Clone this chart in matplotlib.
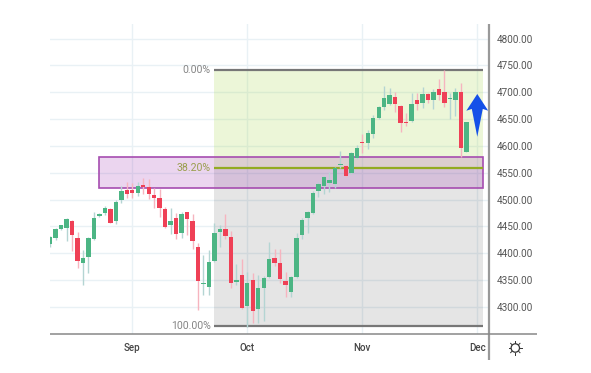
import numpy as np
import matplotlib
matplotlib.use('Agg')
import matplotlib.pyplot as plt
from matplotlib.patches import Rectangle, Polygon, Circle

# candle values, one row per trading day
opens = [4416.9, 4428.7, 4444.3, 4446.2, 4460.5, 4427.5, 4380.8, 4393.3, 4426.2, 4469.8,
         4474.1, 4482.8, 4460.5, 4498.4, 4518.3, 4517.7, 4512.7, 4526.4, 4523.9, 4508.4,
         4502.1, 4481.6, 4451.7, 4466.0, 4436.8, 4476.0, 4459.2, 4411.3, 4341.7, 4336.8,
         4385.9, 4439.4, 4445.6, 4429.4, 4346.7, 4359.8, 4301.3, 4349.2, 4295.1, 4334.3,
         4354.8, 4390.2, 4380.9, 4347.3, 4327.4, 4354.8, 4433.2, 4465.5, 4475.5, 4515.8,
         4525.2, 4530.1, 4528.3, 4563.7, 4563.1, 4548.8, 4576.8, 4607.9, 4606.0, 4621.6,
         4651.4, 4672.0, 4678.8, 4690.6, 4674.5, 4645.2, 4647.1, 4685.0, 4680.7, 4696.9,
         4685.7, 4705.6, 4700.6, 4686.9, 4685.7, 4700.6, 4588.6]
closes = [4430.6, 4444.3, 4452.4, 4464.2, 4433.7, 4384.6, 4391.4, 4427.5, 4464.8, 4472.9,
          4483.5, 4456.7, 4495.3, 4515.2, 4510.2, 4511.5, 4525.8, 4523.9, 4510.2, 4503.4,
          4483.5, 4448.0, 4459.8, 4435.0, 4472.3, 4464.2, 4421.9, 4348.5, 4344.2, 4384.0,
          4438.1, 4445.6, 4432.5, 4344.2, 4349.8, 4297.0, 4343.6, 4291.3, 4334.3, 4354.2,
          4389.6, 4382.2, 4351.1, 4339.9, 4354.8, 4428.8, 4462.4, 4477.3, 4511.5, 4528.3,
          4542.0, 4536.4, 4558.1, 4565.6, 4544.5, 4587.4, 4596.7, 4606.0, 4623.5, 4652.1,
          4673.2, 4690.0, 4694.4, 4677.6, 4642.1, 4643.4, 4678.2, 4678.8, 4696.2, 4685.7,
          4701.2, 4695.0, 4679.4, 4688.8, 4700.0, 4595.5, 4645.2]
highs = [4432.5, 4446.2, 4452.4, 4464.8, 4461.7, 4438.7, 4405.7, 4430.6, 4476.0, 4475.4,
         4487.8, 4484.7, 4499.0, 4525.8, 4532.0, 4530.1, 4533.2, 4539.5, 4538.2, 4520.8,
         4518.9, 4485.3, 4483.5, 4474.1, 4477.3, 4477.3, 4472.3, 4418.2, 4396.5, 4405.8,
         4455.6, 4452.4, 4472.4, 4441.9, 4379.7, 4389.0, 4365.4, 4362.3, 4359.2, 4357.3,
         4421.4, 4407.0, 4407.0, 4365.4, 4357.3, 4436.9, 4464.9, 4479.2, 4516.5, 4533.3,
         4543.8, 4550.7, 4560.0, 4590.5, 4564.4, 4589.2, 4601.7, 4622.2, 4629.7, 4657.7,
         4675.1, 4711.8, 4707.4, 4700.0, 4676.3, 4662.0, 4698.1, 4698.1, 4709.3, 4698.1,
         4705.6, 4724.2, 4741.6, 4698.1, 4707.4, 4716.8, 4645.2]
lows = [4412.0, 4424.4, 4443.0, 4423.1, 4403.9, 4372.1, 4340.4, 4363.4, 4424.4, 4467.9,
        4471.0, 4455.5, 4453.6, 4492.8, 4502.1, 4502.1, 4506.5, 4510.2, 4500.9, 4483.5,
        4467.9, 4446.2, 4435.6, 4425.6, 4428.7, 4433.7, 4407.0, 4293.8, 4321.8, 4321.8,
        4384.0, 4412.0, 4425.7, 4335.5, 4340.5, 4295.1, 4262.7, 4269.0, 4270.2, 4273.9,
        4352.9, 4376.6, 4344.9, 4317.5, 4318.7, 4352.9, 4426.3, 4436.9, 4473.0, 4505.3,
        4509.6, 4514.6, 4520.8, 4558.2, 4542.6, 4547.0, 4575.6, 4586.1, 4593.6, 4614.1,
        4649.6, 4667.0, 4676.3, 4663.9, 4626.6, 4637.8, 4645.2, 4667.0, 4671.4, 4679.4,
        4668.2, 4685.7, 4673.2, 4649.6, 4656.4, 4578.7, 4588.6]

price_ticks = [4300, 4350, 4400, 4450, 4500, 4550, 4600, 4650, 4700, 4750, 4800]
month_ticks = [15, 36, 57, 78]
month_labels = ['Sep', 'Oct', 'Nov', 'Dec']

fib_levels = [4741.6, 4558.0, 4264.0]
fib_labels = ['0.00%', '38.20%', '100.00%']
fib_start, fib_end = 30, 79.1
zone_start, zone_low, zone_high = 9, 4521.5, 4580.0

GREEN = '#4cb584'
RED = '#ef4056'
GREEN_WICK = '#b4d5d3'
RED_WICK = '#f6b4bf'
GRID = '#e9f1f5'
FONT = 'Roboto'

W, H = 591, 373
fig = plt.figure(figsize=(W / 100, H / 100), dpi=100)
ax = fig.add_axes([50 / W, 1 - 334 / H, 439 / W, 310 / H])
ax.set_xlim(-0.03, 80.14)
ax.set_ylim(4249.1, 4827.4)

for side in ax.spines:
    ax.spines[side].set_visible(False)
ax.grid(True, color=GRID, linewidth=1.0, zorder=0)
ax.set_axisbelow(True)

# fibonacci retracement bands
top, mid, bottom = fib_levels
ax.add_patch(Rectangle((fib_start, mid), fib_end - fib_start, top - mid,
                       facecolor=(0.59, 0.82, 0.16), alpha=0.18, linewidth=0, zorder=1))
ax.add_patch(Rectangle((fib_start, bottom), fib_end - fib_start, mid - bottom,
                       facecolor='black', alpha=0.1, linewidth=0, zorder=1))

# purple zone
ax.add_patch(Rectangle((zone_start, zone_low), fib_end - zone_start, zone_high - zone_low,
                       facecolor=(0.63, 0.24, 0.71), alpha=0.21, linewidth=0, zorder=1.5))
ax.add_patch(Rectangle((zone_start, zone_low), fib_end - zone_start, zone_high - zone_low,
                       facecolor='none', edgecolor='#a64db0', linewidth=1.2, zorder=1.5))

for level, color in zip(fib_levels, ['#777777', '#93ab22', '#777777']):
    ax.plot([fib_start, fib_end], [level, level], color=color, linewidth=1.6, zorder=2,
            solid_capstyle='butt')
for level, label, color in zip(fib_levels, fib_labels, ['#858585', '#9a9e4e', '#858585']):
    ax.text(fib_start - 0.7, level, label, color=color, fontsize=7.6, family=FONT,
            ha='right', va='center', zorder=3, clip_on=False)

# candles
o = np.array(opens)
c = np.array(closes)
x = np.arange(len(o))
up = c >= o
ax.vlines(x[up], np.array(lows)[up], np.array(highs)[up], color=GREEN_WICK, linewidth=1, zorder=3)
ax.vlines(x[~up], np.array(lows)[~up], np.array(highs)[~up], color=RED_WICK, linewidth=1, zorder=3)
ax.bar(x, np.abs(c - o), bottom=np.minimum(o, c), width=0.8,
       color=[GREEN if u else RED for u in up], linewidth=0, zorder=4)

# up arrow on the last candles
ax.add_patch(Polygon([(78, 4696.8), (80.0, 4665.6), (79.0, 4669.0), (78, 4617.0),
                      (77.0, 4669.0), (76.0, 4665.6)],
                     closed=True, facecolor='#1450e8', edgecolor='none', zorder=5, clip_on=False))

ax.set_yticks(price_ticks)
ax.set_yticklabels([f'{p:.2f}' for p in price_ticks], family=FONT, fontsize=7.2, color='#555555')
ax.yaxis.tick_right()
ax.tick_params(axis='y', length=0, pad=5.8)
ax.set_xticks(month_ticks)
ax.set_xticklabels(month_labels, family=FONT, fontsize=7.0, color='#444444', fontweight='medium')
ax.tick_params(axis='x', length=0, pad=6.5)

# chart frame and settings icon, in pixels
ui = fig.add_axes([0, 0, 1, 1])
ui.set_xlim(0, W)
ui.set_ylim(H, 0)
ui.axis('off')
ui.patch.set_alpha(0)
ui.plot([489, 489], [24, 360], color='#999999', linewidth=1.6, solid_capstyle='butt')
ui.plot([50, 537], [334, 334], color='#888888', linewidth=1.1, solid_capstyle='butt')
ui.add_patch(Circle((515.3, 348), 4.2, facecolor='white', edgecolor='#333333', linewidth=0.9))
for a in np.arange(0, 360, 45):
    dx, dy = np.cos(np.radians(a)), np.sin(np.radians(a))
    ui.plot([515.3 + 5 * dx, 515.3 + 6.6 * dx], [348 + 5 * dy, 348 + 6.6 * dy],
            color='#333333', linewidth=0.7)

fig.savefig('out.png', dpi=100)
